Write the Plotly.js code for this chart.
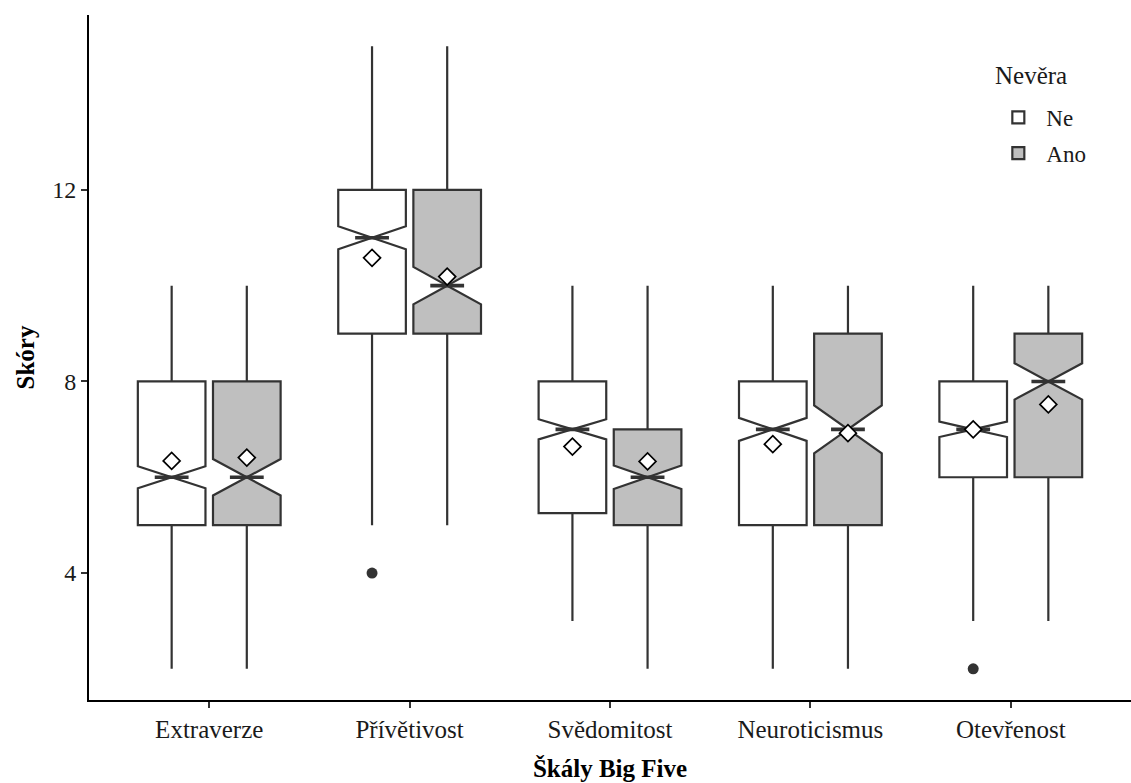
<!DOCTYPE html>
<html>
<head>
<meta charset="utf-8">
<script src="https://cdn.plot.ly/plotly-3.0.1.min.js"></script>
<style>html,body{margin:0;padding:0;background:#fff;}#chart{width:1131px;height:783px;}</style>
</head>
<body>
<div id="chart"></div>
<script>
// ---- data ----
const categories = ["Extraverze", "Přívětivost", "Svědomitost", "Neuroticismus", "Otevřenost"];
const groups = ["Ne", "Ano"];
const legendTitle = "Nevěra";

const neQ1      = [5, 9, 5.25, 5, 6];
const neMedian  = [6, 11, 7, 7, 7];
const neQ3      = [8, 12, 8, 8, 8];
const neLower   = [2, 5, 3, 2, 3];
const neUpper   = [10, 15, 10, 10, 10];
const neNotch   = [0.23, 0.24, 0.21, 0.24, 0.16];
const neMean    = [6.34, 10.58, 6.64, 6.69, 7.0];
const neOutCat  = [1, 4];
const neOutVal  = [4, 2];

const anoQ1     = [5, 9, 5, 5, 6];
const anoMedian = [6, 10, 6, 7, 8];
const anoQ3     = [8, 12, 7, 9, 9];
const anoLower  = [2, 5, 2, 2, 3];
const anoUpper  = [10, 15, 10, 10, 10];
const anoNotch  = [0.38, 0.39, 0.245, 0.50, 0.38];
const anoMean   = [6.41, 10.19, 6.33, 6.92, 7.52];
const anoOutCat = [];
const anoOutVal = [];

const yTicks = [4, 8, 12];

// ---- styling / layout helpers ----
const FONT = "Liberation Serif, Times New Roman, serif";
const LINE = "#333333";
const TEXT = "#1a1a1a";
const FILLS = {Ne: "#ffffff", Ano: "#bfbfbf"};
const idx = categories.map((_, i) => i);
const DODGE = 0.1875;         // group offset (matches boxgap 0.25)
const HALF_NOTCH = 0.084375;  // half-width of box at notch (box half 0.16875 * 0.5)

function boxTrace(name, q1, med, q3, lo, hi, notch) {
  return {
    type: "box", name: name, x: idx, q1: q1, median: med, q3: q3,
    lowerfence: lo, upperfence: hi, notchspan: notch, notched: true,
    notchwidth: 0.5, whiskerwidth: 0, boxpoints: false,
    fillcolor: FILLS[name], line: {color: LINE, width: 2.2},
    legendgroup: name, hoverinfo: "skip"
  };
}

function medianLines(med, sign) {
  const xs = [], ys = [];
  med.forEach((m, i) => {
    const c = i + sign * DODGE;
    xs.push(c - HALF_NOTCH, c + HALF_NOTCH, null);
    ys.push(m, m, null);
  });
  return {type: "scatter", mode: "lines", x: xs, y: ys, line: {color: LINE, width: 3.6},
          showlegend: false, hoverinfo: "skip"};
}

function meanTrace(mean, sign) {
  return {type: "scatter", mode: "markers", x: idx.map(i => i + sign * DODGE), y: mean,
          marker: {symbol: "diamond", size: 13, color: "#ffffff", line: {color: "#000000", width: 1.7}},
          showlegend: false, hoverinfo: "skip"};
}

function outlierTrace(cats, vals, sign) {
  return {type: "scatter", mode: "markers", x: cats.map(i => i + sign * DODGE), y: vals,
          marker: {symbol: "circle", size: 11, color: LINE},
          showlegend: false, hoverinfo: "skip"};
}

const data = [
  boxTrace("Ne", neQ1, neMedian, neQ3, neLower, neUpper, neNotch),
  boxTrace("Ano", anoQ1, anoMedian, anoQ3, anoLower, anoUpper, anoNotch),
  medianLines(neMedian, -1),
  medianLines(anoMedian, 1),
  outlierTrace(neOutCat, neOutVal, -1),
  outlierTrace(anoOutCat, anoOutVal, 1),
  meanTrace(neMean, -1),
  meanTrace(anoMean, 1)
];

const layout = {
  width: 1131, height: 783,
  margin: {l: 89, r: 0, t: 15, b: 83},
  paper_bgcolor: "#ffffff", plot_bgcolor: "#ffffff",
  font: {family: FONT, color: TEXT, size: 24},
  boxmode: "group", boxgap: 0.25, boxgroupgap: 0.1,
  showlegend: true,
  legend: {
    x: 0.865, y: 0.882, xanchor: "left", yanchor: "top",
    font: {family: FONT, size: 23, color: TEXT},
    itemwidth: 46,
    traceorder: "grouped", tracegroupgap: 3, bgcolor: "rgba(0,0,0,0)"
  },
  annotations: [{
    text: legendTitle, xref: "paper", yref: "paper", x: 0.868, y: 0.912,
    xanchor: "left", yanchor: "middle", showarrow: false,
    font: {family: FONT, size: 25, color: TEXT}
  }],
  xaxis: {
    range: [-0.6, 4.6], tickmode: "array", tickvals: idx, ticktext: categories,
    showline: true, linecolor: "#000000", linewidth: 2, mirror: false,
    ticks: "outside", ticklen: 6, tickwidth: 2, tickcolor: LINE,
    showgrid: false, zeroline: false,
    tickfont: {family: FONT, size: 25, color: TEXT},
    title: {text: "<b>Škály Big Five</b>", font: {family: FONT, size: 25, color: "#000000"}, standoff: 17}
  },
  yaxis: {
    range: [1.35, 15.65], tickmode: "array", tickvals: yTicks,
    showline: true, linecolor: "#000000", linewidth: 2,
    ticks: "outside", ticklen: 6, tickwidth: 2, tickcolor: LINE,
    showgrid: false, zeroline: false,
    tickfont: {family: FONT, size: 24, color: TEXT},
    title: {text: "<b>Skóry</b>", font: {family: FONT, size: 25, color: "#000000"}, standoff: 10}
  }
};

Plotly.newPlot("chart", data, layout, {staticPlot: true, displayModeBar: false});
</script>
</body>
</html>
